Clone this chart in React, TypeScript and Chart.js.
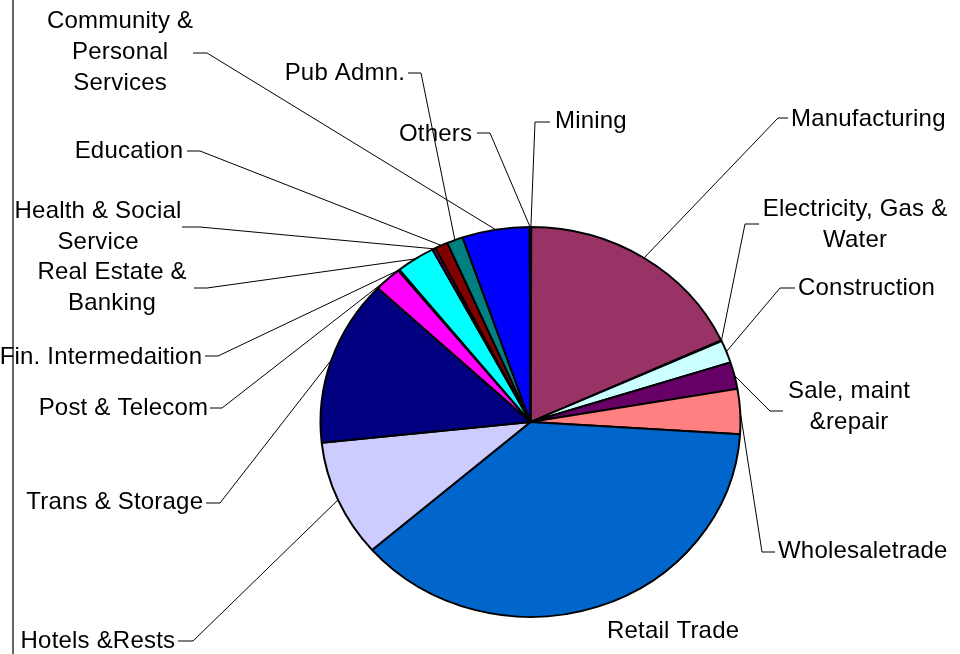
import React, { useEffect, useRef } from 'react';
import { Chart, ArcElement, PieController } from 'chart.js';

Chart.register(ArcElement, PieController);

// ---- data ----
const categories = [
  'Mining',
  'Manufacturing',
  'Electricity, Gas & Water',
  'Construction',
  'Sale, maint &repair',
  'Wholesaletrade',
  'Retail Trade',
  'Hotels &Rests',
  'Trans & Storage',
  'Post & Telecom',
  'Fin. Intermedaition',
  'Real Estate & Banking',
  'Health & Social Service',
  'Education',
  'Pub Admn.',
  'Community & Personal Services',
  'Others',
];
const shares = [0.06, 18.06, 0.08, 1.86, 2.22, 3.72, 37.61, 9.69, 13.75, 2.11, 0.11, 3.0, 0.25, 1.0, 1.24, 5.18, 0.06];

// ---- styles ----
const sliceColors = [
  '#9999FF', '#993366', '#FFFFCC', '#CCFFFF', '#660066', '#FF8080', '#0066CC', '#CCCCFF',
  '#000080', '#FF00FF', '#FFFF00', '#00FFFF', '#800080', '#800000', '#008080', '#0000FF', '#00CCFF',
];

// ---- label layout (text lines, anchor, leader stub) ----
type LabelLayout = {
  lines: string[];
  x: number;
  y: number;
  align: CanvasTextAlign;
  stub?: [number, number, number]; // elbow x, label-side x, y
};
const labelLayout: LabelLayout[] = [
  { lines: ['Mining'], x: 555, y: 120, align: 'left', stub: [535, 550, 122] },
  { lines: ['Manufacturing'], x: 791, y: 118, align: 'left', stub: [778, 788, 118] },
  { lines: ['Electricity, Gas &', 'Water'], x: 855, y: 208, align: 'center', stub: [745, 759, 224] },
  { lines: ['Construction'], x: 798, y: 287, align: 'left', stub: [780, 795, 288] },
  { lines: ['Sale, maint', '&repair'], x: 849, y: 390, align: 'center', stub: [770, 783, 411] },
  { lines: ['Wholesaletrade'], x: 778, y: 550, align: 'left', stub: [762, 775, 552] },
  { lines: ['Retail Trade'], x: 607, y: 630, align: 'left' },
  { lines: ['Hotels &Rests'], x: 175, y: 640, align: 'right', stub: [193, 178, 641] },
  { lines: ['Trans & Storage'], x: 203, y: 501, align: 'right', stub: [220, 206, 503] },
  { lines: ['Post & Telecom'], x: 208, y: 407, align: 'right', stub: [222, 210, 408] },
  { lines: ['Fin. Intermedaition'], x: 202, y: 356, align: 'right', stub: [218, 205, 356] },
  { lines: ['Real Estate &', 'Banking'], x: 112, y: 271, align: 'center', stub: [207, 194, 288] },
  { lines: ['Health & Social', 'Service'], x: 98, y: 210, align: 'center', stub: [200, 182, 227] },
  { lines: ['Education'], x: 183, y: 150, align: 'right', stub: [200, 187, 151] },
  { lines: ['Pub Admn.'], x: 405, y: 72, align: 'right', stub: [421, 408, 73] },
  { lines: ['Community &', 'Personal', 'Services'], x: 120, y: 20, align: 'center', stub: [207, 193, 53] },
  { lines: ['Others'], x: 472, y: 133, align: 'right', stub: [490, 477, 133] },
];

const RX = 210;
const RY = 195;
const YSCALE = RY / RX;
const LINE_H = 31;
const FONT = '24px "Liberation Sans", Arial, sans-serif';
const LETTER_SPACING = 0.2;

const ellipsePlugin = {
  id: 'ellipse',
  beforeDatasetsDraw(chart: any) {
    const arc = chart.getDatasetMeta(0).data[0];
    const ctx = chart.ctx;
    ctx.save();
    ctx.translate(arc.x, arc.y);
    ctx.scale(1, YSCALE);
    ctx.translate(-arc.x, -arc.y);
  },
  afterDatasetsDraw(chart: any) {
    chart.ctx.restore();
  },
};

const labelPlugin = {
  id: 'leaderLabels',
  afterDraw(chart: any) {
    const ctx: any = chart.ctx;
    const arcs = chart.getDatasetMeta(0).data;
    ctx.save();
    // left frame line
    ctx.strokeStyle = '#333';
    ctx.lineWidth = 1.5;
    ctx.beginPath();
    ctx.moveTo(13, 0);
    ctx.lineTo(13, 654);
    ctx.stroke();

    ctx.strokeStyle = '#000';
    ctx.lineWidth = 1;
    labelLayout.forEach((lab, i) => {
      const a = arcs[i];
      if (!a || !lab.stub) return;
      const mid = (a.startAngle + a.endAngle) / 2;
      const px = a.x + a.outerRadius * Math.cos(mid);
      const py = a.y + a.outerRadius * Math.sin(mid) * YSCALE;
      const [ex, lx, sy] = lab.stub;
      ctx.beginPath();
      ctx.moveTo(px, py);
      ctx.lineTo(ex, sy);
      ctx.lineTo(lx, sy);
      ctx.stroke();
    });

    ctx.fillStyle = '#000';
    ctx.font = FONT;
    ctx.textBaseline = 'middle';
    try { ctx.letterSpacing = LETTER_SPACING + 'px'; } catch (e) { /* ignore */ }
    labelLayout.forEach((lab) => {
      ctx.textAlign = lab.align;
      const shift = lab.align === 'right' ? LETTER_SPACING : lab.align === 'center' ? LETTER_SPACING / 2 : 0;
      lab.lines.forEach((t, k) => ctx.fillText(t, lab.x + shift, lab.y + 1.5 + k * LINE_H));
    });
    ctx.restore();
  },
};

export default function App() {
  const ref = useRef<HTMLCanvasElement | null>(null);
  useEffect(() => {
    if (!ref.current) return;
    const chart = new Chart(ref.current, {
      type: 'pie',
      data: {
        labels: categories,
        datasets: [
          {
            data: shares,
            backgroundColor: sliceColors,
            borderColor: '#000',
            borderWidth: 2,
            clip: false,
          } as any,
        ],
      },
      options: {
        responsive: false,
        animation: false,
        radius: RX,
        layout: { padding: { left: 320, right: 219, top: 212, bottom: 22 } },
        plugins: { legend: { display: false }, tooltip: { enabled: false } },
        events: [],
      } as any,
      plugins: [ellipsePlugin, labelPlugin],
    });
    return () => chart.destroy();
  }, []);
  return (
    <div style={{ position: 'absolute', left: 0, top: 0, width: 960, height: 654, background: '#fff' }}>
      <canvas ref={ref} width={960} height={654} style={{ display: 'block' }} />
    </div>
  );
}
